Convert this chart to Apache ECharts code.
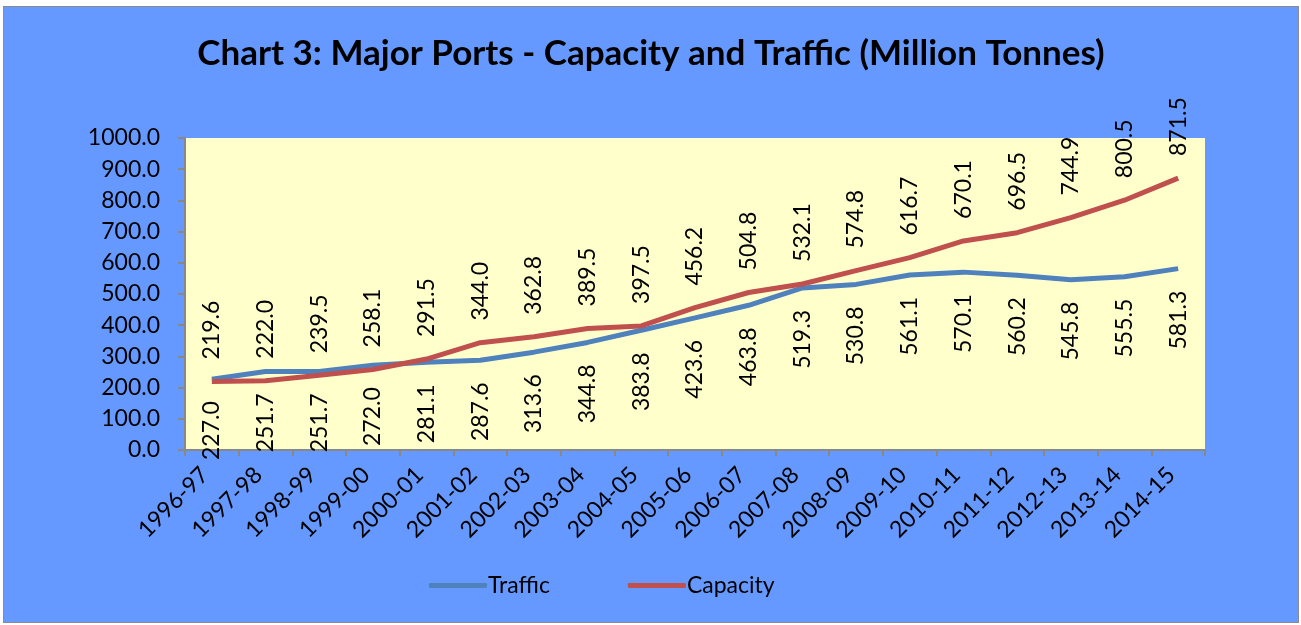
<!DOCTYPE html>
<html>
<head>
<meta charset="utf-8">
<script src="https://cdn.jsdelivr.net/npm/echarts@6/dist/echarts.min.js"></script>
<style>
  html, body { margin: 0; padding: 0; background: #fff; }
  #chart { position: absolute; left: 3px; top: 6px; width: 1296px; height: 617px; border: 1px solid #8c8c8c; box-sizing: border-box; }
</style>
</head>
<body>
<div id="chart"></div>
<script>
// 年度
const years = ['1996-97', '1997-98', '1998-99', '1999-00', '2000-01', '2001-02', '2002-03', '2003-04', '2004-05',
  '2005-06', '2006-07', '2007-08', '2008-09', '2009-10', '2010-11', '2011-12', '2012-13', '2013-14', '2014-15']
// 吞吐量
const traffic = [227.0, 251.7, 251.7, 272.0, 281.1, 287.6, 313.6, 344.8, 383.8,
  423.6, 463.8, 519.3, 530.8, 561.1, 570.1, 560.2, 545.8, 555.5, 581.3]
// 能力
const capacity = [219.6, 222.0, 239.5, 258.1, 291.5, 344.0, 362.8, 389.5, 397.5,
  456.2, 504.8, 532.1, 574.8, 616.7, 670.1, 696.5, 744.9, 800.5, 871.5]

const font = 'Lato, "Open Sans", sans-serif'
const fs = 23
const myChart = echarts.init(document.getElementById('chart'))

const option = {
  backgroundColor: '#6699FF',
  textStyle: { fontFamily: font },
  title: {
    text: 'Chart 3: Major Ports - Capacity and Traffic (Million Tonnes)',
    left: 'center',
    top: 24,
    textStyle: { fontFamily: font, fontWeight: 'bold', fontSize: 35, color: '#000' }
  },
  legend: {
    left: 420,
    top: 562,
    itemWidth: 58,
    itemHeight: 5,
    itemGap: 78,
    icon: 'roundRect',
    textStyle: { fontFamily: font, fontSize: fs, color: '#000', padding: [0, 0, 0, -4] },
    data: ['Traffic', 'Capacity']
  },
  grid: {
    left: 181,
    right: 93,
    top: 131,
    bottom: 172,
    show: true,
    backgroundColor: '#FFFFCC',
    borderWidth: 0
  },
  xAxis: {
    type: 'category',
    data: years,
    boundaryGap: true,
    axisLine: { show: true, lineStyle: { color: '#888', width: 2 } },
    axisTick: { show: true, length: 6, lineStyle: { color: '#888', width: 2 } },
    axisLabel: { rotate: 45, fontSize: fs, color: '#000', fontFamily: font, margin: 14, interval: 0, padding: [0, 10, 0, 0] }
  },
  yAxis: {
    type: 'value',
    min: 0,
    max: 1000,
    interval: 100,
    axisLine: { show: true, lineStyle: { color: '#888', width: 2 } },
    axisTick: { show: true, length: 7, lineStyle: { color: '#888', width: 2 } },
    splitLine: { show: false },
    axisLabel: {
      fontSize: fs, color: '#000', fontFamily: font, margin: 25,
      formatter: v => v.toFixed(1)
    }
  },
  series: [
    {
      name: 'Traffic',
      type: 'line',
      data: traffic,
      symbol: 'circle',
      symbolSize: 0.1,
      showSymbol: true,
      color: '#4F81BD',
      lineStyle: { color: '#4F81BD', width: 5 },
      label: {
        show: true,
        position: 'bottom',
        distance: 22,
        rotate: 90,
        align: 'right',
        verticalAlign: 'middle',
        fontSize: fs,
        color: '#000',
        fontFamily: font,
        formatter: p => p.value.toFixed(1)
      },
      z: 2
    },
    {
      name: 'Capacity',
      type: 'line',
      data: capacity,
      symbol: 'circle',
      symbolSize: 0.1,
      showSymbol: true,
      color: '#C0504D',
      lineStyle: { color: '#C0504D', width: 5 },
      label: {
        show: true,
        position: 'top',
        distance: 22,
        rotate: 90,
        align: 'left',
        verticalAlign: 'middle',
        fontSize: fs,
        color: '#000',
        fontFamily: font,
        formatter: p => p.value.toFixed(1)
      },
      z: 3
    }
  ]
}

myChart.setOption(option)
</script>
</body>
</html>
